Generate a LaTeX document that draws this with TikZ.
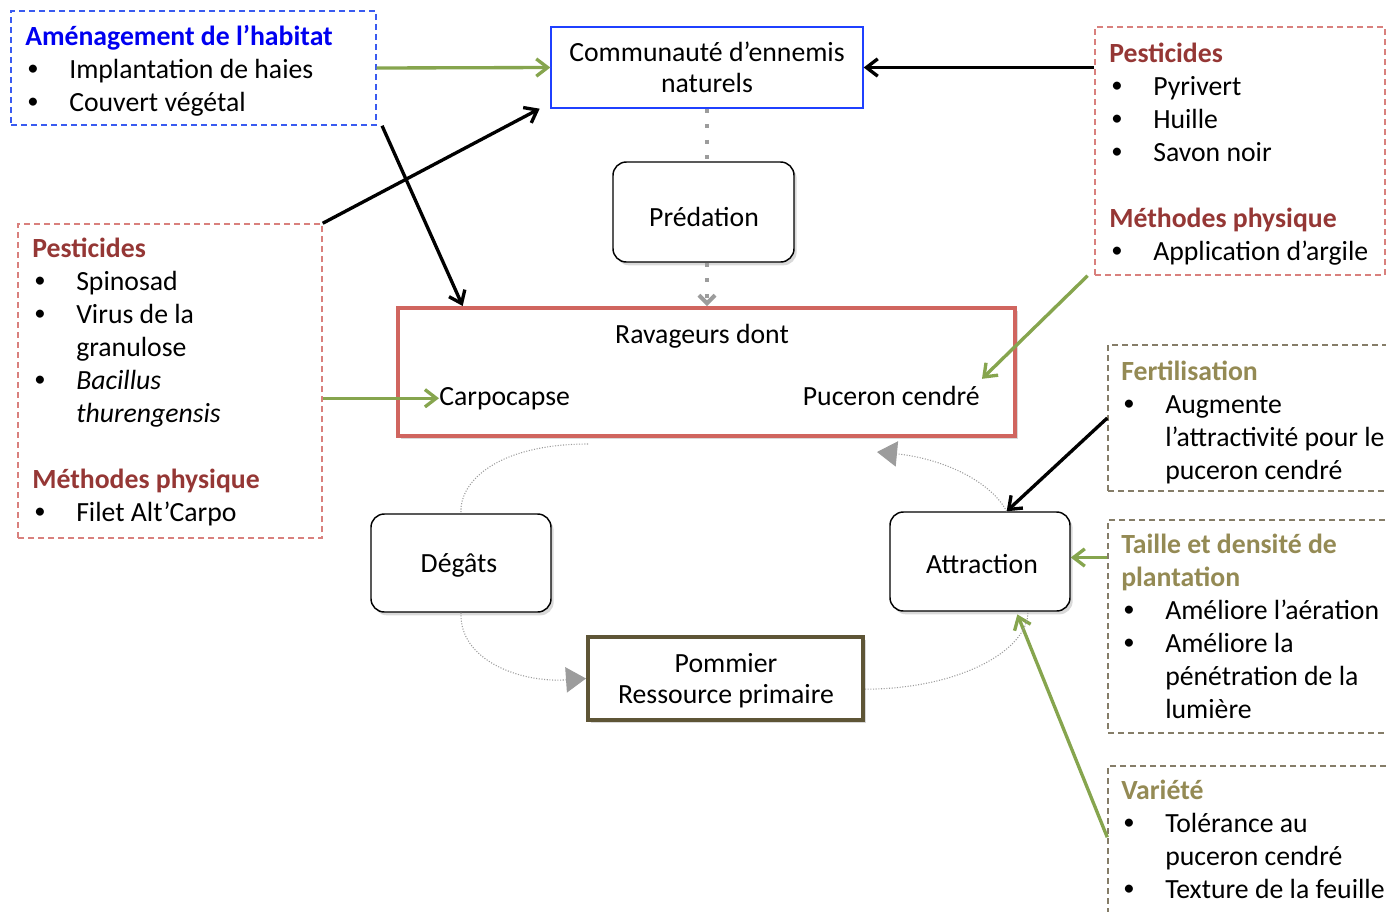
\documentclass[tikz,border=0pt]{standalone}
\usepackage{fontspec}
\setmainfont{Carlito}
\usetikzlibrary{arrows.meta,fit,shadows,calc}
\definecolor{hblue}{HTML}{0000F0}
\definecolor{bluebox}{HTML}{3A5BF0}
\definecolor{comblue}{HTML}{1F40FF}
\definecolor{dred}{HTML}{953735}
\definecolor{redbox}{HTML}{D9807D}
\definecolor{ravred}{HTML}{D0655F}
\definecolor{olive}{HTML}{948A54}
\definecolor{olivebox}{HTML}{857D68}
\definecolor{pomb}{HTML}{5E5536}
\definecolor{garr}{HTML}{86A54E}
\definecolor{grayc}{HTML}{9C9C9C}
\newcommand\lst[1]{\vtop{\baselineskip=24.75pt\lineskiplimit=-30pt\lineskip=0pt #1}}
\newcommand\hd[2]{\hbox{\bfseries\color{#1}#2}}
\newcommand\bi[1]{\hbox{\makebox[33pt][l]{\hspace{1.5pt}\raisebox{1.8pt}{\fontsize{17}{17}\selectfont•}}#1}}
\newcommand\ct[1]{\hbox{\hspace{33pt}#1}}
\newcommand\ctr[1]{\vtop{\baselineskip=23.25pt\lineskiplimit=-30pt\lineskip=0pt\halign{\hfil##\hfil\cr#1\crcr}}}
\begin{document}
\begin{tikzpicture}[x=0.75pt,y=-0.75pt,
  every node/.style={font=\fontsize{20.8}{24.75}\selectfont, inner sep=0pt},
  dbox/.style={draw, dash pattern=on 4.5pt off 3pt, line width=1.1pt},
  shad/.style={drop shadow={opacity=0.3, shadow xshift=2pt, shadow yshift=-2.5pt}},
  rbox/.style={draw=black, line width=1.1pt, rounded corners=10pt, fill=white, shad},
  arr/.style={line width=2.5pt, -{Straight Barb[length=8.5pt,width=13pt]}},
  garrow/.style={arr, draw=garr},
  barrow/.style={arr, draw=black},
  gdot/.style={draw=grayc, line width=3pt, dash pattern=on 3pt off 8.7pt},
  thindot/.style={draw=grayc, line width=0.8pt, dash pattern=on 0.8pt off 1.2pt},
  tri/.style={-{Triangle[length=15pt,width=19pt,fill=grayc]}}
]
\useasboundingbox (0,0) rectangle (1386,911);
% ---- boxes
\node[dbox, draw=bluebox, fit={(11,11) (376,125)}] (hab) {};
\node[anchor=base west] (habt) at (25,45) {\lst{\hd{hblue}{Aménagement de l’habitat}\bi{Implantation de haies}\bi{Couvert végétal}}};

\node[draw=comblue, line width=1pt, fit={(551,27) (863,108)}] (com) {};
\node[anchor=base] (comt) at (707,61) {\ctr{Communauté d’ennemis\cr naturels}};

\node[dbox, draw=redbox, fit={(1095,27) (1385,275)}] (rb) {};
\node[anchor=base west] (rbt) at (1109,62) {\lst{\hd{dred}{Pesticides}\bi{Pyrivert}\bi{Huille}\bi{Savon noir}\hbox{}\hd{dred}{Méthodes physique}\bi{Application d’argile}}};

\node[dbox, draw=redbox, fit={(18,224) (322,538)}] (lb) {};
\node[anchor=base west] (lbt) at (32,257) {\lst{\hd{dred}{Pesticides}\bi{Spinosad}\bi{Virus de la}\ct{granulose}\bi{\itshape Bacillus}\ct{\itshape thurengensis}\hbox{}\hd{dred}{Méthodes physique}\bi{Filet Alt’Carpo}}};

\node[rbox, fit={(613,162) (794,262)}] (pred) {};
\node[anchor=base] (predt) at (704,226) {Prédation};

\node[draw=ravred, line width=3pt, fill=white, shad, fit={(398,308) (1015,436)}] (rav) {};
\node[anchor=base] (ravt) at (702,343) {Ravageurs dont};
\node[anchor=base west] (carpo) at (439,405) {Carpocapse};
\node[anchor=base east] (puc) at (980,405) {Puceron cendré};

\node[rbox, fit={(371,514) (551,612)}] (dg) {};
\node[anchor=base] (dgt) at (459,572) {Dégâts};

\node[rbox, fit={(890,512) (1070,611)}] (at) {};
\node[anchor=base] (att) at (982,573) {Attraction};

\node[draw=pomb, line width=3pt, fill=white, shad, fit={(588,637) (863,720)}] (pom) {};
\node[anchor=base] (pomt) at (726,672) {\ctr{Pommier\cr Ressource primaire}};

\node[dbox, draw=olivebox, fit={(1108,345) (1400,491)}] (fb) {};
\node[anchor=base west] (fbt) at (1121,380) {\lst{\hd{olive}{Fertilisation}\bi{Augmente}\ct{l’attractivité pour le}\ct{puceron cendré}}};

\node[dbox, draw=olivebox, fit={(1108,520) (1400,733)}] (tb) {};
\node[anchor=base west] (tbt) at (1121,553) {\lst{\hd{olive}{Taille et densité de}\hd{olive}{plantation}\bi{Améliore l’aération}\bi{Améliore la}\ct{pénétration de la}\ct{lumière}}};

\node[dbox, draw=olivebox, fit={(1108,766) (1400,940)}] (vb) {};
\node[anchor=base west] (vbt) at (1121,799) {\lst{\hd{olive}{Variété}\bi{Tolérance au}\ct{puceron cendré}\bi{Texture de la feuille}}};

% ---- connectors
\coordinate (atr) at ([yshift=3pt]at.east);
\coordinate (c1) at (588,444);
\coordinate (c4) at (877,452);
\draw[garrow] (hab.east) -- (com.west);
\draw[barrow] (rb.west |- com.east) -- (com.east);
\draw[barrow] (lb.north east) -- ([xshift=-8pt]com.south west);
\draw[barrow] ([xshift=4pt]hab.south east) -- ([xshift=50pt]rav.north west);
\draw[garrow] (lb.east |- carpo.west) -- (carpo.west);
\draw[garrow] ([xshift=-5pt]rb.south west) -- ([shift={(1.5pt,5pt)}]puc.north east);
\draw[barrow] (fb.west) -- ([xshift=20pt]at.north);
\draw[garrow] (tb.west |- atr) -- (atr);
\draw[garrow] ([yshift=-54pt]vb.north west) -- ([xshift=28pt,yshift=-2pt]at.south);

\draw[gdot] (com.south) -- (com.south |- pred.north);
\draw[gdot, -{Straight Barb[length=6pt,width=12pt]}] (com.south |- pred.south) -- (com.south |- rav.north);

\draw[thindot] (c1) .. controls (500,444) and (459,480) .. (dg.north);
\draw[thindot, tri] (dg.south) .. controls (459,660) and (520,683) .. (pom.west);
\draw[thindot] ([yshift=-8pt]pom.east) .. controls (960,689) and (1028,650) .. ([xshift=36pt]at.south);
\draw[thindot, tri] ([xshift=20pt]at.north) .. controls (990,480) and (940,458) .. (c4);
\end{tikzpicture}
\end{document}
